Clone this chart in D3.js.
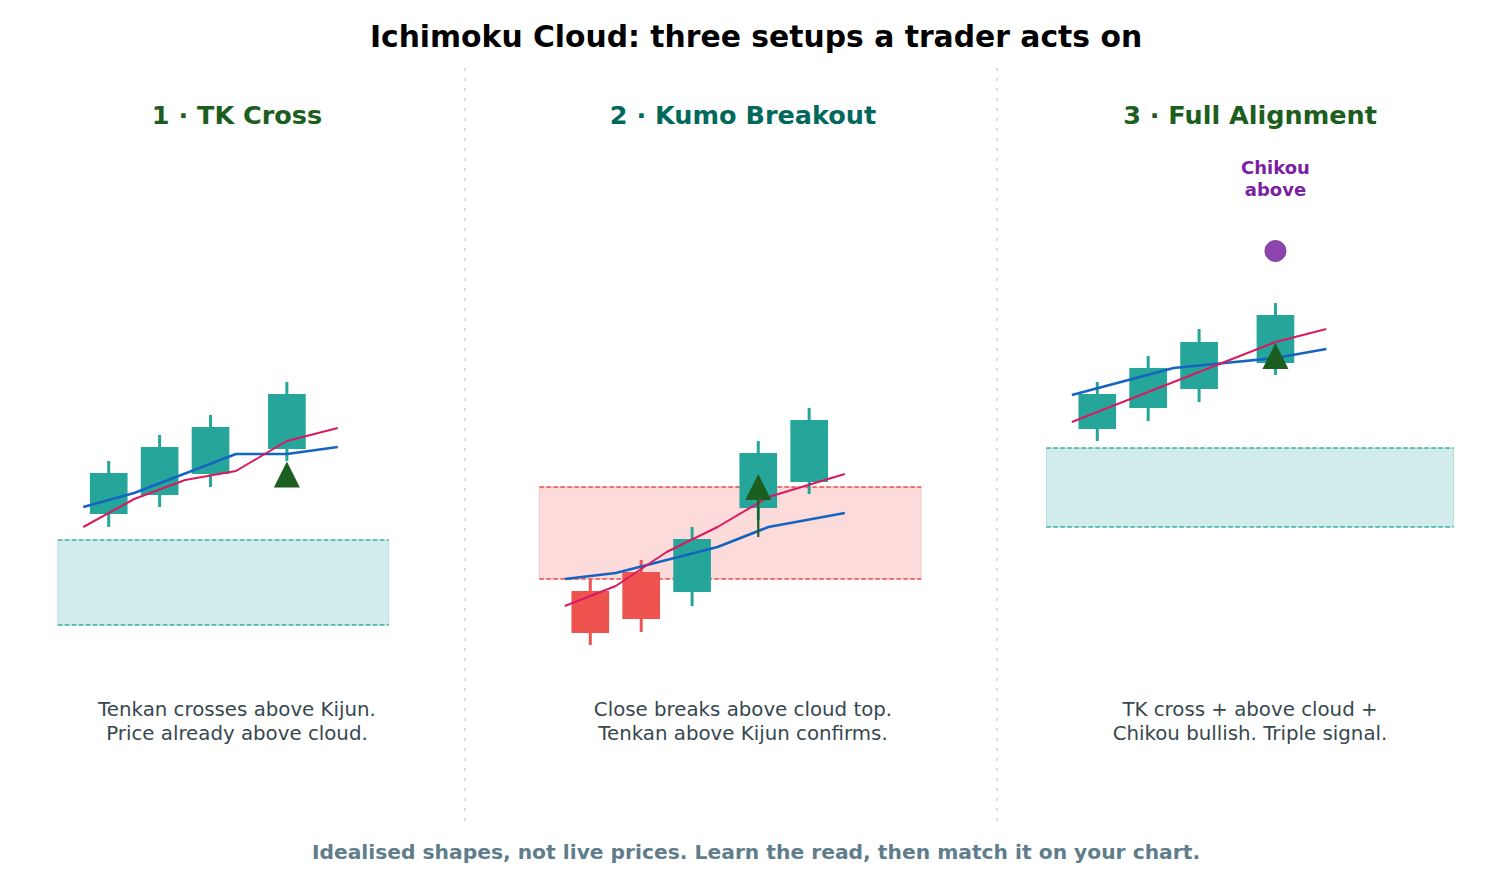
<!DOCTYPE html>
<html><head><meta charset="utf-8">
<script src="https://cdn.jsdelivr.net/npm/d3@7"></script>
<style>html,body{margin:0;padding:0;background:#fff}svg{display:block}</style>
</head><body>
<svg id="chart" width="1512" height="887"></svg>
<script>
// ---------- data ----------
const chartTitle = "Ichimoku Cloud: three setups a trader acts on";
const footnote = "Idealised shapes, not live prices. Learn the read, then match it on your chart.";
const panelTitles = ["1 · TK Cross", "2 · Kumo Breakout", "3 · Full Alignment"];
const captions = [
  ["Tenkan crosses above Kijun.", "Price already above cloud."],
  ["Close breaks above cloud top.", "Tenkan above Kijun confirms."],
  ["TK cross + above cloud +", "Chikou bullish. Triple signal."]
];
// candles: [x, open, high, low, close]
const candles1 = [[0.5,18.6,23.9,17.3,22.7],[1.5,20.5,26.5,19.3,25.3],[2.5,22.6,28.5,21.3,27.3],[4,25.1,31.8,23.9,30.6]];
const candles2 = [[0.5,10.9,12.1,5.5,6.7],[1.5,12.8,14.0,6.8,8.1],[2.5,10.8,17.3,9.4,16.1],[3.8,19.2,25.9,18.0,24.7],[4.8,21.8,29.2,20.6,28.0]];
const candles3 = [[0.5,27.1,31.8,25.9,30.6],[1.5,29.2,34.4,27.9,33.2],[2.5,31.1,37.1,29.8,35.8],[4,33.7,39.7,32.5,38.5]];
const lineX1 = [0,1,2,3,4,5];
const tenkan1 = [17.3,20.1,22.0,22.9,25.9,27.2];
const kijun1  = [19.3,20.7,22.65,24.6,24.6,25.3];
const lineX2 = [0,1,2,3,4,5.5];
const tenkan2 = [9.4,11.4,14.8,17.3,20.3,22.6];
const kijun2  = [12.1,12.7,14.0,15.3,17.3,18.7];
const lineX3 = [0,1,2,3,4,5];
const tenkan3 = [27.8,29.8,31.8,33.8,35.8,37.1];
const kijun3  = [30.5,31.85,33.2,33.7,34.2,35.1];
const cloudX = [[-0.5,6],[-0.5,7],[-0.5,7.5]];
const cloudTop = [16.0,21.3,25.2];
const cloudBottom = [7.5,12.1,17.3];
const cloudKind = ["bull","bear","bull"];
const signalX = [4,3.8,4];
const signalY = [22.55,21.3,34.4];
const signalStemFrom = [null,16.3,null];
const chikouX = 4, chikouY = 44.9;
const chikouLabel = ["Chikou","above"];
const chikouLabelY = [52.6,50.4];
const xDomains = [[-1.4,7.44],[-0.92,7.92],[-0.92,7.92]];
const yDomain = [0,60];

// ---------- layout / style ----------
const W = 1512, H = 887;
const FONT = "'DejaVu Sans', Verdana, sans-serif";
const panelLeft = [12,518,1025], panelWidth = 450;
const separatorsX = [465,997];
const titleColors = ["#1b5e20","#00695c","#1b5e20"];
const C = {bull:"#26a69a", bear:"#ef5350", kijun:"#1565c0", tenkan:"#d81b60", signal:"#1b5e20",
  chikou:"#8e44ad", chikouText:"#7b1fa2", caption:"#37474f", foot:"#607d8b"};
const cloudFill = {bull:"#26a69a", bear:"#ef5350"};
const cloudEdge = {bull:"#26a69a", bear:"#e53935"};

const svg = d3.select("#chart").style("font-family", FONT);
svg.append("rect").attr("width",W).attr("height",H).attr("fill","#fff");

svg.append("text").attr("x",W/2).attr("y",47).attr("text-anchor","middle")
  .attr("font-size",29.8).attr("font-weight","bold").attr("fill","#000").text(chartTitle);
svg.append("text").attr("x",W/2).attr("y",859).attr("text-anchor","middle")
  .attr("font-size",20.25).attr("font-weight","bold").attr("fill",C.foot).text(footnote);

separatorsX.forEach(x => svg.append("line").attr("x1",x).attr("x2",x).attr("y1",68).attr("y2",822)
  .attr("stroke","#d5d5d5").attr("stroke-width",1.6).attr("stroke-dasharray","3,7"));

const y = d3.scaleLinear().domain(yDomain).range([700,100]);
const allCandles = [candles1,candles2,candles3];
const allLineX = [lineX1,lineX2,lineX3];
const allTenkan = [tenkan1,tenkan2,tenkan3];
const allKijun = [kijun1,kijun2,kijun3];
const candleW = 0.74;

for (let p = 0; p < 3; p++) {
  const x = d3.scaleLinear().domain(xDomains[p]).range([panelLeft[p], panelLeft[p]+panelWidth]);
  const g = svg.append("g");
  const cx = panelLeft[p] + panelWidth/2;
  g.append("text").attr("x",cx).attr("y",124).attr("text-anchor","middle")
    .attr("font-size",25.5).attr("font-weight","bold").attr("fill",titleColors[p]).text(panelTitles[p]);
  captions[p].forEach((t,i) => g.append("text").attr("x",cx).attr("y",716+i*24).attr("text-anchor","middle")
    .attr("font-size",19.8).attr("fill",C.caption).text(t));

  // cloud
  const k = cloudKind[p];
  const [cx0,cx1] = cloudX[p];
  g.append("rect").attr("x",x(cx0)).attr("width",x(cx1)-x(cx0))
    .attr("y",y(cloudTop[p])).attr("height",y(cloudBottom[p])-y(cloudTop[p]))
    .attr("fill",cloudFill[k]).attr("fill-opacity",0.21)
    .attr("stroke",cloudFill[k]).attr("stroke-opacity",0.25).attr("stroke-width",1);
  [cloudTop[p],cloudBottom[p]].forEach(v => g.append("line").attr("x1",x(cx0)).attr("x2",x(cx1))
    .attr("y1",y(v)).attr("y2",y(v)).attr("stroke",cloudEdge[k]).attr("stroke-opacity",0.85)
    .attr("stroke-width",1.3).attr("stroke-dasharray","4.5,2.5"));

  // candles
  allCandles[p].forEach(d => {
    const [cxv,o,h,l,c] = d;
    const col = c >= o ? C.bull : C.bear;
    g.append("line").attr("x1",x(cxv)).attr("x2",x(cxv)).attr("y1",y(h)).attr("y2",y(l))
      .attr("stroke",col).attr("stroke-width",3);
    const top = Math.max(o,c), bot = Math.min(o,c);
    g.append("rect").attr("x",x(cxv-candleW/2)).attr("width",x(cxv+candleW/2)-x(cxv-candleW/2))
      .attr("y",y(top)).attr("height",y(bot)-y(top)).attr("fill",col);
  });

  // lines
  const line = d3.line().x(d=>x(d[0])).y(d=>y(d[1]));
  const lx = allLineX[p];
  g.append("path").datum(lx.map((v,i)=>[v,allKijun[p][i]])).attr("d",line)
    .attr("fill","none").attr("stroke",C.kijun).attr("stroke-width",2.6).attr("stroke-linejoin","round");
  g.append("path").datum(lx.map((v,i)=>[v,allTenkan[p][i]])).attr("d",line)
    .attr("fill","none").attr("stroke",C.tenkan).attr("stroke-width",2).attr("stroke-linejoin","round");

  // signal
  const sx = x(signalX[p]), sy = y(signalY[p]);
  if (signalStemFrom[p] !== null) {
    g.append("line").attr("x1",sx).attr("x2",sx).attr("y1",y(signalStemFrom[p])).attr("y2",sy)
      .attr("stroke",C.signal).attr("stroke-width",2.2);
  }
  g.append("path").attr("d",`M${sx},${sy-13}L${sx+13},${sy+13}L${sx-13},${sy+13}Z`).attr("fill",C.signal);

  if (p === 2) {
    g.append("circle").attr("cx",x(chikouX)).attr("cy",y(chikouY)).attr("r",10.5)
      .attr("fill",C.chikou).attr("stroke","#7d3c98").attr("stroke-width",1);
    chikouLabel.forEach((t,i) => g.append("text").attr("x",x(chikouX)).attr("y",y(chikouLabelY[i]))
      .attr("text-anchor","middle").attr("font-size",18).attr("font-weight","bold")
      .attr("fill",C.chikouText).text(t));
  }
}
</script>
</body></html>
